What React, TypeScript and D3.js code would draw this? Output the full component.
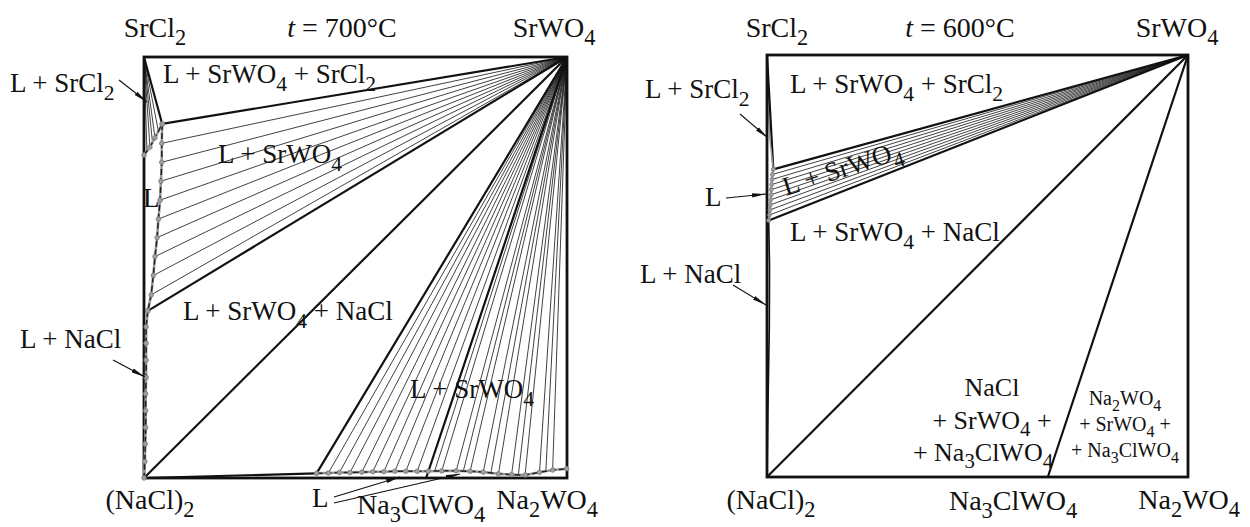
import React from "react";
import * as d3 from "d3";

type P = [number, number];

// composition square: u = 0 on the (NaCl)2–SrCl2 side, u = 1 on the Na2WO4–SrWO4 side
// v = 0 along (NaCl)2–Na2WO4, v = 1 along SrCl2–SrWO4
const SrCl2: P = [0, 1];
const SrWO4: P = [1, 1];
const NaCl2: P = [0, 0];
const Na3ClWO4: P = [0.667, 0];

// ---- t = 700 °C ----
const liqSrCl2_700: P[] = [[0, 0.767], [0.014, 0.786], [0.026, 0.808], [0.043, 0.841]];
const tieSrCl2_700: P[] = [[0, 0.767], [0.007, 0.776], [0.014, 0.786], [0.02, 0.797], [0.026, 0.808], [0.034, 0.824]];
const liqSrWO4_700: P[] = [
  [0.043, 0.841], [0.042, 0.795], [0.042, 0.75], [0.04, 0.705], [0.038, 0.66], [0.034, 0.615],
  [0.031, 0.571], [0.026, 0.526], [0.022, 0.481], [0.017, 0.435], [0.009, 0.397],
];
const liqNaCl_700: P[] = [
  [0.009, 0.397], [0.005, 0.359], [0.005, 0.32], [0.005, 0.28], [0.005, 0.239], [0.004, 0.2],
  [0.004, 0.16], [0.004, 0.12], [0.003, 0.081], [0.002, 0.039], [0, 0],
];
const liqNa_700: P[] = [
  [0.408, 0.011], [0.436, 0.012], [0.462, 0.013], [0.487, 0.013], [0.515, 0.014], [0.541, 0.015],
  [0.567, 0.015], [0.593, 0.016], [0.619, 0.016], [0.646, 0.016], [0.672, 0.016], [0.704, 0.017],
  [0.738, 0.017], [0.771, 0.016], [0.802, 0.014], [0.838, 0.01], [0.869, 0.008], [0.901, 0.007],
  [0.935, 0.0135], [0.966, 0.019], [0.999, 0.022],
];
const tieNaExtra_700: P[] = [[0.687, 0.016], [0.755, 0.017], [0.82, 0.012], [0.885, 0.0075], [0.95, 0.016]];

// ---- t = 600 °C ----
const liqSrCl2_600: P[] = [[0.002, 0.882], [0.007, 0.8], [0.015, 0.729]];
const liqSrWO4_600: P[] = [
  [0.015, 0.729], [0.013, 0.717], [0.012, 0.705], [0.011, 0.693], [0.01, 0.681], [0.01, 0.669],
  [0.009, 0.657], [0.008, 0.645], [0.007, 0.633], [0.006, 0.621], [0.004, 0.608],
];
const liqNaCl_600: P[] = [[0.004, 0.608], [0.006, 0.5], [0.0055, 0.355], [0.002, 0.15], [0, 0]];

const FONT = "Liberation Serif";

function Chem({ x, y, t, fs = 27, anchor = "start", rotate = 0 }: { x: number; y: number; t: string; fs?: number; anchor?: string; rotate?: number }) {
  const parts = t.split(/(_\d|\*[^*]+\*)/).filter((s) => s.length);
  const shift = fs * 0.28;
  let down = false;
  const spans = parts.map((p, i) => {
    if (p.startsWith("_")) {
      const el = (
        <tspan key={i} dy={down ? 0 : shift} style={{ fontSize: fs * 0.8 }}>{p.slice(1)}</tspan>
      );
      down = true;
      return el;
    }
    const dy = down ? -shift : 0;
    down = false;
    if (p.startsWith("*")) return <tspan key={i} dy={dy} style={{ fontStyle: "italic" }}>{p.slice(1, -1)}</tspan>;
    return <tspan key={i} dy={dy}>{p}</tspan>;
  });
  return (
    <text x={x} y={y} textAnchor={anchor as any} fill="#111"
      transform={rotate ? `rotate(${rotate},${x},${y})` : undefined}
      style={{ fontFamily: FONT, fontSize: fs, whiteSpace: "pre" }}>
      {spans}
    </text>
  );
}

function Arrow({ from, to }: { from: P; to: P }) {
  return <line x1={from[0]} y1={from[1]} x2={to[0]} y2={to[1]} stroke="#111" strokeWidth={1.1} markerEnd="url(#arr)" />;
}

function usePanel(x0: number, x1: number, yTop: number, yBottom: number) {
  const x = d3.scaleLinear().domain([0, 1]).range([x0, x1]);
  const y = d3.scaleLinear().domain([0, 1]).range([yBottom, yTop]);
  const line = d3.line<P>().x((d) => x(d[0])).y((d) => y(d[1]));
  const seg = (a: P, b: P, w: number, key: string | number, color = "#111") => (
    <line key={key} x1={x(a[0])} y1={y(a[1])} x2={x(b[0])} y2={y(b[1])} stroke={color} strokeWidth={w} />
  );
  const liquidus = (pts: P[], dots = true) => (
    <g>
      <path d={line(pts) ?? ""} fill="none" stroke="#9a9a9a" strokeWidth={2.6} />
      <path d={line(pts) ?? ""} fill="none" stroke="#222" strokeWidth={1.5} strokeDasharray="6 3" />
      {dots && pts.map((p, i) => (
        <circle key={i} cx={x(p[0])} cy={y(p[1])} r={2.3} fill="#a0a0a0" stroke="#7a7a7a" strokeWidth={0.8} />
      ))}
    </g>
  );
  return { x, y, line, seg, liquidus };
}

function Panel700() {
  const { x, y, seg, liquidus } = usePanel(144, 567, 57, 478);
  const L1 = liqSrWO4_700[0];
  const L2 = liqSrWO4_700[liqSrWO4_700.length - 1];
  const L3 = liqNa_700[0];
  const ties = [
    ...tieSrCl2_700.map((p, i) => seg(SrCl2, p, 0.8, "c" + i)),
    ...liqSrWO4_700.slice(1, -1).map((p, i) => seg(SrWO4, p, 0.8, "w" + i)),
    ...liqNa_700.slice(1).map((p, i) => seg(SrWO4, p, 0.8, "n" + i)),
    ...tieNaExtra_700.map((p, i) => seg(SrWO4, p, 0.8, "e" + i)),
  ];
  const thick: [P, P][] = [
    [SrCl2, L1], [L1, SrWO4], [L2, SrWO4], [NaCl2, SrWO4], [L3, SrWO4], [NaCl2, L3], [Na3ClWO4, SrWO4],
  ];
  return (
    <g>
      {ties}
      {thick.map(([a, b], i) => seg(a, b, 2.2, "t" + i))}
      <rect x={x(0)} y={y(1)} width={x(1) - x(0)} height={y(0) - y(1)} fill="none" stroke="#111" strokeWidth={2.8} />
      {liquidus(liqSrCl2_700)}
      {liquidus(liqSrWO4_700)}
      {liquidus(liqNaCl_700)}
      {liquidus(liqNa_700)}

      <Chem x={155} y={37} t="SrCl_2" anchor="middle" fs={28} />
      <Chem x={342} y={37} t="*t* = 700°C" anchor="middle" fs={28} />
      <Chem x={554} y={37} t="SrWO_4" anchor="middle" fs={28} />
      <Chem x={150} y={509} t="(NaCl)_2" anchor="middle" fs={28} />
      <Chem x={357} y={514} t="Na_3ClWO_4" fs={28} />
      <Chem x={598} y={509} t="Na_2WO_4" anchor="end" fs={28} />

      <Chem x={10} y={92} t="L + SrCl_2" />
      <Chem x={163} y={83} t="L + SrWO_4 + SrCl_2" />
      <Chem x={218} y={163} t="L + SrWO_4" />
      <Chem x={143} y={207} t="L" />
      <Chem x={20} y={348} t="L + NaCl" />
      <Chem x={183} y={320} t="L + SrWO_4 + NaCl" />
      <Chem x={410} y={398} t="L + SrWO_4" />
      <Chem x={312} y={507} t="L" />

      <Arrow from={[119, 80]} to={[147, 102]} />
      <Arrow from={[113, 360]} to={[145, 377]} />
      <Arrow from={[334, 497]} to={[400, 477]} />
      <Arrow from={[334, 503]} to={[460, 474]} />
    </g>
  );
}

function Panel600() {
  const { x, y, seg, line } = usePanel(767, 1188, 55, 477);
  const L1 = liqSrWO4_600[0];
  const L2 = liqSrWO4_600[liqSrWO4_600.length - 1];
  const thick: [P, P][] = [[SrCl2, L1], [L1, SrWO4], [L2, SrWO4], [NaCl2, SrWO4], [Na3ClWO4, SrWO4]];
  return (
    <g>
      {liqSrWO4_600.slice(1, -1).map((p, i) => seg(SrWO4, p, 0.8, "w" + i))}
      {seg(SrCl2, liqSrCl2_600[1], 0.7, "c0", "#555")}
      {thick.map(([a, b], i) => seg(a, b, 2.2, "t" + i))}
      <path d={line(liqNaCl_600) ?? ""} fill="none" stroke="#111" strokeWidth={1.6} />
      <path d={line(liqSrCl2_600) ?? ""} fill="none" stroke="#999" strokeWidth={1.4} />
      <rect x={x(0)} y={y(1)} width={x(1) - x(0)} height={y(0) - y(1)} fill="none" stroke="#111" strokeWidth={2.8} />
      <path d={line(liqSrWO4_600) ?? ""} fill="none" stroke="#9a9a9a" strokeWidth={2.4} />
      {liqSrWO4_600.map((p, i) => (
        <circle key={i} cx={x(p[0])} cy={y(p[1])} r={2} fill="#a0a0a0" stroke="#7a7a7a" strokeWidth={0.7} />
      ))}

      <Chem x={777} y={37} t="SrCl_2" anchor="middle" fs={28} />
      <Chem x={960} y={37} t="*t* = 600°C" anchor="middle" fs={28} />
      <Chem x={1177} y={37} t="SrWO_4" anchor="middle" fs={28} />
      <Chem x={771} y={509} t="(NaCl)_2" anchor="middle" fs={28} />
      <Chem x={1013} y={510} t="Na_3ClWO_4" anchor="middle" fs={28} />
      <Chem x={1240} y={509} t="Na_2WO_4" anchor="end" fs={28} />

      <Chem x={790} y={93} t="L + SrWO_4 + SrCl_2" />
      <Chem x={645} y={98} t="L + SrCl_2" />
      <Chem x={786} y={196} t="L + SrWO_4" rotate={-18} />
      <Chem x={705} y={206} t="L" />
      <Chem x={790} y={241} t="L + SrWO_4 + NaCl" />
      <Chem x={640} y={283} t="L + NaCl" />
      <Chem x={992} y={396} t="NaCl" anchor="middle" fs={26} />
      <Chem x={992} y={429} t="+ SrWO_4 +" anchor="middle" fs={26} />
      <Chem x={983} y={461} t="+ Na_3ClWO_4" anchor="middle" fs={26} />
      <Chem x={1125} y={405} t="Na_2WO_4" fs={20} anchor="middle" />
      <Chem x={1125} y={431} t="+ SrWO_4 +" fs={20} anchor="middle" />
      <Chem x={1125} y={457} t="+ Na_3ClWO_4" fs={20} anchor="middle" />

      <Arrow from={[740, 114]} to={[768, 138]} />
      <Arrow from={[726, 198]} to={[766, 194]} />
      <Arrow from={[733, 285]} to={[766, 305]} />
    </g>
  );
}

export default function App() {
  return (
    <svg width={1250} height={527} style={{ position: "absolute", left: 0, top: 0, background: "#fff" }}>
      <defs>
        <marker id="arr" viewBox="0 0 14 6" refX={14} refY={3} markerWidth={14} markerHeight={6}
          markerUnits="userSpaceOnUse" orient="auto">
          <path d="M0,0.9 L14,3 L0,5.1 Z" fill="#111" />
        </marker>
      </defs>
      <Panel700 />
      <Panel600 />
    </svg>
  );
}
